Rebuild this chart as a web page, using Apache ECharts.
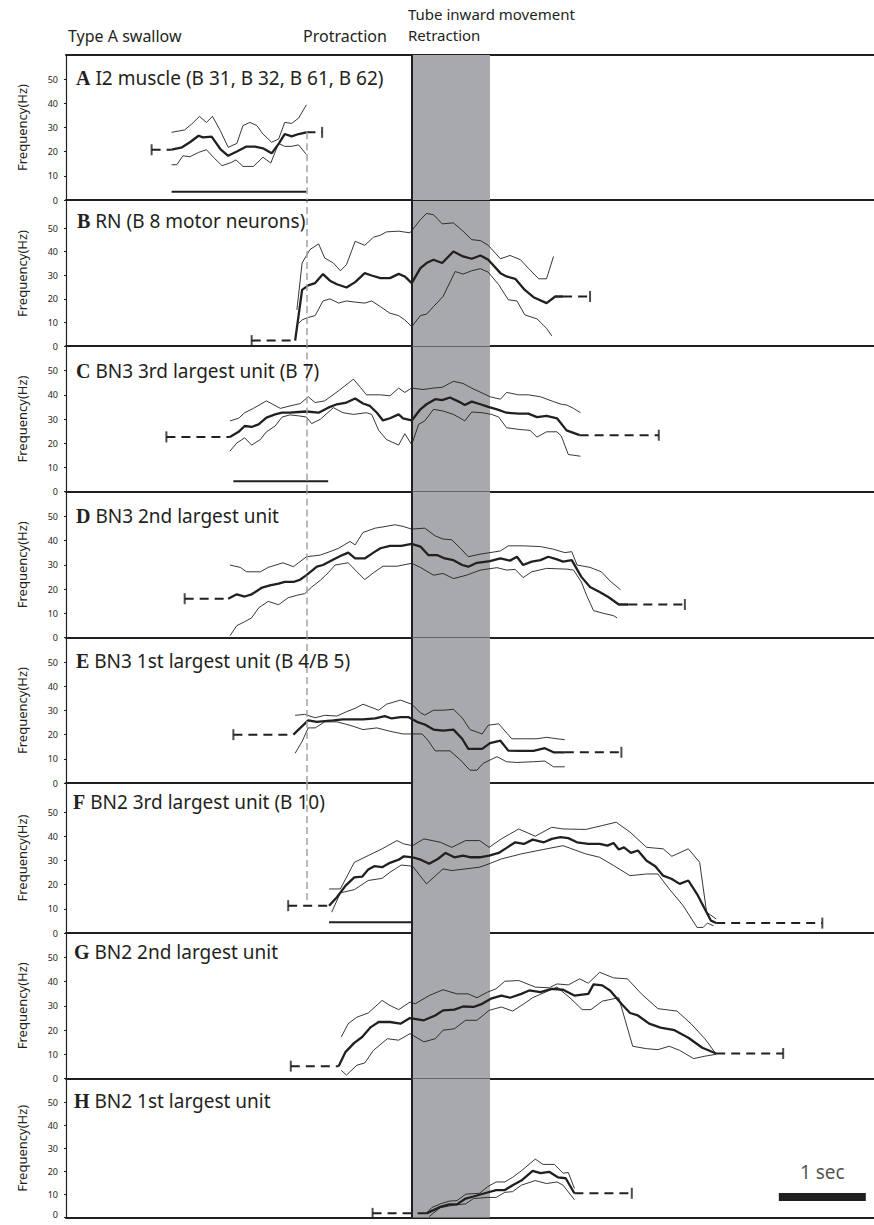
<!DOCTYPE html>
<html><head><meta charset="utf-8">
<script src="https://cdn.jsdelivr.net/npm/echarts@6/dist/echarts.min.js"></script>
<style>html,body{margin:0;padding:0;background:#fff}#c{width:874px;height:1225px}</style>
</head><body><div id="c"></div>
<script>
// ---------------- DATA (time in s, 0 = start of retraction; frequency in Hz) ----------------
const PANEL_KEYS = ['A','B','C','D','E','F','G','H'];
const PANEL_TITLES = ['I2 muscle (B 31, B 32, B 61, B 62)','RN (B 8 motor neurons)','BN3 3rd largest unit (B 7)','BN3 2nd largest unit','BN3 1st largest unit (B 4/B 5)','BN2 3rd largest unit (B 10)','BN2 2nd largest unit','BN2 1st largest unit'];
const HEADER_LEFT = 'Type A swallow';
const HEADER_PROT = 'Protraction';
const HEADER_TUBE = 'Tube inward movement';
const HEADER_RETR = 'Retraction';
const Y_NAME = 'Frequency(Hz)';
const Y_TICKS = [0,10,20,30,40,50];
const PROTRACTION_T = -1.21;
const RETRACTION_BAND = [0, 0.9];
const SCALE_BAR = [[4.22,8.9],[5.22,8.9]];
const SCALE_TEXT = '1 sec';

const A_mean = [[-2.76,20.8],[-2.64,21.8],[-2.55,23.9],[-2.45,26.6],[-2.40,25.9],[-2.30,26.2],[-2.20,21.1],[-2.11,18.3],[-2.01,20.1],[-1.90,22.1],[-1.80,22.1],[-1.71,21.4],[-1.61,19.3],[-1.53,23.2],[-1.46,27.3],[-1.38,26.3],[-1.30,27.3],[-1.21,28.0]];
const A_upper = [[-2.76,28.0],[-2.61,29.0],[-2.53,31.4],[-2.44,34.6],[-2.36,32.1],[-2.29,34.6],[-2.20,28.7],[-2.11,21.8],[-2.01,23.4],[-1.94,30.8],[-1.86,32.1],[-1.78,30.8],[-1.71,27.3],[-1.61,23.9],[-1.53,25.2],[-1.46,32.1],[-1.38,31.7],[-1.30,33.9],[-1.21,39.4]];
const A_lower = [[-2.76,14.6],[-2.70,14.6],[-2.63,18.3],[-2.55,17.9],[-2.45,19.7],[-2.36,20.8],[-2.28,17.7],[-2.18,14.2],[-2.07,15.6],[-2.02,16.6],[-1.94,13.9],[-1.82,13.9],[-1.71,17.7],[-1.62,15.3],[-1.53,23.4],[-1.46,22.2],[-1.38,22.2],[-1.30,22.8],[-1.21,18.8]];
const A_caps = [[-2.99,20.8],[-1.03,28.0]];
const A_bar = [[-2.76,3.4],[-1.21,3.4]];

const B_mean = [[-1.34,2.3],[-1.26,23.8],[-1.19,25.7],[-1.11,26.7],[-1.02,30.5],[-0.94,27.7],[-0.86,26.2],[-0.75,24.8],[-0.65,27.1],[-0.54,30.9],[-0.46,29.9],[-0.36,28.8],[-0.25,28.8],[-0.15,30.6],[-0.08,29.5],[0,26.7],[0.10,33.0],[0.17,35.2],[0.25,36.6],[0.35,35.2],[0.48,40.1],[0.59,38.0],[0.69,37.0],[0.79,38.4],[0.88,36.6],[1.02,30.9],[1.09,29.5],[1.19,28.5],[1.30,23.8],[1.40,20.7],[1.55,18.2],[1.65,21.0],[1.74,21.0]];
const B_upper = [[-1.32,15.3],[-1.26,35.2],[-1.17,40.9],[-1.07,43.3],[-1.00,37.3],[-0.90,35.2],[-0.82,31.9],[-0.75,34.5],[-0.65,44.4],[-0.54,42.7],[-0.44,46.1],[-0.36,47.0],[-0.29,48.4],[-0.15,48.7],[-0.02,48.0],[0.10,53.6],[0.17,56.2],[0.25,55.7],[0.35,51.8],[0.48,52.2],[0.59,48.7],[0.69,45.1],[0.79,44.7],[0.88,42.7],[1.02,37.0],[1.13,38.4],[1.25,36.6],[1.34,33.0],[1.46,28.5],[1.55,28.5],[1.63,38.0]];
const B_lower = [[-1.30,9.6],[-1.26,11.1],[-1.19,12.1],[-1.11,12.9],[-1.02,19.1],[-0.94,20.0],[-0.84,18.2],[-0.75,19.1],[-0.65,18.6],[-0.54,18.2],[-0.46,19.1],[-0.36,16.7],[-0.25,13.9],[-0.15,12.9],[-0.08,11.1],[0,8.2],[0.10,12.9],[0.17,13.5],[0.25,16.7],[0.36,21.0],[0.50,31.6],[0.59,30.5],[0.69,31.9],[0.79,32.8],[0.88,31.3],[1.00,26.0],[1.11,19.6],[1.21,19.1],[1.30,13.2],[1.44,11.5],[1.55,7.5],[1.61,4.3]];
const B_caps = [[-1.84,2.3],[2.05,21.0]];

const C_mean = [[-2.09,22.6],[-1.99,24.7],[-1.92,27.1],[-1.84,26.7],[-1.76,27.8],[-1.67,30.6],[-1.57,31.9],[-1.49,32.6],[-1.40,32.6],[-1.30,32.9],[-1.21,33.1],[-1.07,32.6],[-0.96,34.7],[-0.86,36.1],[-0.75,36.8],[-0.65,38.5],[-0.56,36.4],[-0.48,35.4],[-0.40,32.6],[-0.33,29.4],[-0.25,30.3],[-0.15,31.9],[-0.10,30.3],[0,29.4],[0.10,34.0],[0.17,36.1],[0.27,38.2],[0.35,37.8],[0.44,38.9],[0.54,37.2],[0.61,35.8],[0.69,37.2],[0.79,36.1],[0.88,35.0],[0.98,34.0],[1.09,32.6],[1.23,32.2],[1.34,32.2],[1.44,30.8],[1.55,31.3],[1.67,30.3],[1.78,25.3],[1.93,23.3]];
const C_upper = [[-2.09,29.2],[-1.99,30.3],[-1.92,32.6],[-1.82,34.4],[-1.67,37.5],[-1.51,34.4],[-1.40,35.4],[-1.28,36.4],[-1.19,39.2],[-1.11,36.8],[-1.00,37.5],[-0.84,41.7],[-0.67,46.5],[-0.59,43.1],[-0.52,40.0],[-0.36,40.0],[-0.25,39.6],[-0.15,42.8],[-0.08,41.0],[0,42.8],[0.13,42.2],[0.25,42.8],[0.35,43.1],[0.48,45.6],[0.59,44.7],[0.71,42.4],[0.82,40.6],[0.90,39.2],[1.02,38.2],[1.09,41.0],[1.23,40.0],[1.34,40.0],[1.48,39.2],[1.63,37.2],[1.72,36.1],[1.78,35.8],[1.86,34.4],[1.94,32.6]];
const C_lower = [[-2.09,16.7],[-2.01,20.1],[-1.92,22.2],[-1.84,19.2],[-1.74,21.5],[-1.67,24.7],[-1.57,27.1],[-1.49,30.8],[-1.40,31.7],[-1.30,31.3],[-1.21,30.8],[-1.15,28.1],[-1.05,29.9],[-0.90,34.7],[-0.79,32.6],[-0.67,31.9],[-0.52,32.6],[-0.46,31.9],[-0.38,25.3],[-0.29,21.5],[-0.15,19.2],[-0.08,23.9],[0,19.4],[0.08,27.8],[0.15,29.2],[0.25,34.0],[0.36,33.3],[0.48,31.9],[0.58,29.9],[0.61,29.2],[0.69,32.9],[0.81,32.6],[0.92,31.9],[1.00,30.8],[1.09,26.4],[1.23,25.7],[1.36,25.3],[1.44,22.5],[1.55,24.7],[1.67,24.7],[1.72,22.9],[1.80,15.3],[1.94,14.6]];
const C_caps = [[-2.82,22.6],[2.84,23.3]];
const C_bar = [[-2.05,4.2],[-0.96,4.2]];

const D_mean = [[-2.11,16.0],[-2.01,17.8],[-1.92,16.9],[-1.84,17.8],[-1.72,20.6],[-1.63,21.5],[-1.53,22.2],[-1.46,22.9],[-1.36,22.9],[-1.28,23.9],[-1.21,25.7],[-1.09,29.2],[-1.02,29.9],[-0.90,32.2],[-0.82,33.6],[-0.73,35.0],[-0.65,32.6],[-0.54,32.6],[-0.44,35.0],[-0.36,36.8],[-0.25,37.8],[-0.12,37.8],[0,38.6],[0.10,37.5],[0.19,34.0],[0.29,34.0],[0.38,32.6],[0.48,31.9],[0.58,29.9],[0.65,29.2],[0.75,30.8],[0.90,31.5],[1.02,32.6],[1.13,31.7],[1.21,33.3],[1.28,29.9],[1.38,31.3],[1.48,31.9],[1.57,33.3],[1.67,32.2],[1.74,31.3],[1.84,31.9],[1.95,25.0],[2.05,20.8],[2.16,18.8],[2.26,16.7],[2.38,13.6],[2.49,13.6]];
const D_upper = [[-2.09,29.9],[-1.97,28.9],[-1.90,27.1],[-1.74,27.1],[-1.65,28.9],[-1.48,30.8],[-1.36,29.2],[-1.21,33.3],[-1.05,34.0],[-0.94,35.4],[-0.84,36.8],[-0.71,39.6],[-0.65,38.2],[-0.56,43.3],[-0.42,45.1],[-0.33,45.6],[-0.19,46.5],[-0.10,45.8],[0,44.7],[0.15,45.1],[0.27,41.9],[0.36,40.6],[0.46,40.3],[0.56,36.8],[0.65,33.3],[0.79,34.4],[0.90,35.0],[1.02,35.7],[1.11,37.8],[1.28,37.8],[1.48,37.5],[1.63,36.4],[1.76,35.0],[1.84,35.4],[1.90,29.9],[2.05,28.9],[2.18,27.1],[2.28,23.3],[2.40,19.7]];
const D_lower = [[-2.09,0.7],[-2.01,4.9],[-1.92,6.5],[-1.84,8.1],[-1.76,12.2],[-1.65,14.9],[-1.53,13.5],[-1.42,16.4],[-1.32,17.4],[-1.23,18.1],[-1.15,20.8],[-1.05,23.6],[-0.96,26.7],[-0.88,29.9],[-0.73,30.8],[-0.63,27.1],[-0.54,23.9],[-0.44,26.7],[-0.33,29.4],[-0.17,29.4],[0,30.6],[0.10,28.9],[0.25,25.7],[0.36,26.4],[0.48,24.3],[0.63,25.7],[0.79,27.8],[0.98,28.8],[1.09,27.8],[1.19,28.1],[1.28,24.7],[1.38,27.1],[1.55,28.5],[1.78,28.2],[1.86,27.8],[1.95,22.9],[2.01,17.4],[2.09,11.1],[2.20,10.0],[2.32,9.0],[2.36,8.1]];
const D_caps = [[-2.61,16.0],[3.14,13.6]];

const E_mean = [[-1.36,20.0],[-1.28,22.8],[-1.19,25.9],[-1.09,25.3],[-1.00,25.6],[-0.90,25.9],[-0.79,26.3],[-0.67,26.3],[-0.56,26.3],[-0.42,26.7],[-0.31,27.7],[-0.23,26.7],[-0.13,27.3],[-0.04,27.3],[0.06,25.3],[0.15,24.2],[0.25,22.1],[0.36,21.7],[0.48,22.1],[0.58,18.3],[0.65,14.1],[0.81,14.1],[0.90,16.5],[1.02,17.5],[1.11,13.4],[1.25,13.3],[1.40,13.3],[1.53,14.4],[1.63,12.7],[1.76,12.7]];
const E_upper = [[-1.34,28.0],[-1.23,28.4],[-1.11,27.0],[-1.00,28.0],[-0.86,27.7],[-0.75,29.5],[-0.65,30.9],[-0.56,32.6],[-0.48,31.5],[-0.38,30.1],[-0.29,32.6],[-0.13,34.3],[0,32.6],[0.10,29.1],[0.15,28.1],[0.25,30.1],[0.36,30.1],[0.48,30.5],[0.58,27.0],[0.67,22.1],[0.81,20.3],[0.88,23.9],[1.00,24.5],[1.15,18.3],[1.30,18.3],[1.44,18.3],[1.55,18.9],[1.67,18.3],[1.76,17.9]];
const E_lower = [[-1.34,12.3],[-1.26,17.2],[-1.19,22.8],[-1.11,22.8],[-1.00,25.3],[-0.86,25.3],[-0.71,23.9],[-0.56,22.1],[-0.40,22.8],[-0.25,21.4],[-0.10,20.3],[0,20.3],[0.12,20.3],[0.19,17.5],[0.27,13.3],[0.44,13.3],[0.56,9.5],[0.67,5.3],[0.75,5.3],[0.82,8.1],[0.98,10.9],[1.09,8.8],[1.21,8.5],[1.40,8.8],[1.53,9.1],[1.63,6.7],[1.76,6.7]];
const E_caps = [[-2.05,20.0],[2.41,12.7]];

const F_mean = [[-0.95,11.3],[-0.86,14.8],[-0.76,19.6],[-0.66,23.0],[-0.57,23.3],[-0.50,26.2],[-0.43,27.6],[-0.34,27.2],[-0.25,29.0],[-0.15,30.3],[-0.09,31.7],[0.01,31.3],[0.11,30.2],[0.20,28.6],[0.30,30.6],[0.39,33.1],[0.49,31.3],[0.59,32.0],[0.68,31.3],[0.78,31.3],[0.89,32.0],[1.00,33.1],[1.10,35.4],[1.19,37.5],[1.29,36.8],[1.39,38.6],[1.52,37.5],[1.61,38.9],[1.71,39.6],[1.80,39.2],[1.90,37.5],[2.03,36.8],[2.16,36.8],[2.25,36.1],[2.32,37.2],[2.38,34.5],[2.44,35.4],[2.52,33.1],[2.60,34.1],[2.70,29.9],[2.80,27.6],[2.89,23.7],[2.99,22.3],[3.08,20.3],[3.18,21.7],[3.28,16.1],[3.35,11.3],[3.44,5.1],[3.50,4.1]];
const F_upper = [[-0.95,18.2],[-0.82,18.2],[-0.66,29.2],[-0.50,32.0],[-0.34,34.8],[-0.17,38.2],[-0.09,36.8],[0.01,36.1],[0.14,38.9],[0.33,37.5],[0.46,35.4],[0.62,38.2],[0.78,38.2],[0.89,35.4],[1.03,38.9],[1.23,43.0],[1.42,40.0],[1.61,43.7],[1.74,43.0],[2.00,42.8],[2.19,44.4],[2.35,45.8],[2.51,41.7],[2.70,35.4],[2.89,34.8],[2.99,31.7],[3.18,34.8],[3.31,29.2],[3.39,8.6],[3.50,5.8]];
const F_lower = [[-0.92,8.6],[-0.82,16.6],[-0.66,17.9],[-0.50,21.7],[-0.34,22.6],[-0.25,25.1],[-0.12,28.1],[0.01,27.6],[0.17,20.3],[0.36,26.5],[0.46,25.8],[0.62,26.5],[0.78,27.2],[0.89,28.6],[1.03,30.6],[1.26,32.7],[1.51,34.5],[1.74,36.1],[2.00,32.7],[2.16,31.3],[2.32,27.9],[2.51,23.7],[2.70,24.4],[2.83,24.4],[2.96,18.2],[3.12,11.3],[3.28,2.3],[3.35,2.3],[3.40,4.1],[3.47,3.0]];
const F_caps = [[-1.42,11.3],[4.72,4.1]];
const F_bar = [[-0.95,4.4],[0,4.4]];

const G_mean = [[-0.84,5.1],[-0.76,11.0],[-0.66,14.7],[-0.57,17.1],[-0.47,21.2],[-0.38,23.3],[-0.25,23.3],[-0.13,22.6],[-0.02,24.9],[0.14,24.0],[0.27,26.0],[0.36,28.1],[0.49,28.4],[0.59,29.7],[0.71,29.5],[0.81,30.8],[0.91,32.9],[1.03,34.2],[1.13,33.3],[1.26,34.9],[1.35,36.3],[1.48,35.6],[1.61,37.0],[1.74,36.6],[1.87,34.2],[2.03,34.9],[2.09,38.8],[2.19,38.4],[2.28,36.3],[2.41,30.8],[2.51,27.0],[2.60,26.0],[2.73,22.6],[2.86,21.0],[3.02,19.9],[3.18,16.8],[3.34,12.7],[3.50,10.3]];
const G_upper = [[-0.81,17.1],[-0.73,22.6],[-0.63,25.3],[-0.50,27.0],[-0.34,32.2],[-0.25,30.1],[-0.15,28.4],[-0.02,31.5],[0.04,30.8],[0.20,34.2],[0.36,36.6],[0.52,34.9],[0.65,34.9],[0.75,33.3],[0.87,35.6],[0.97,37.0],[1.07,40.1],[1.23,40.4],[1.42,37.7],[1.58,37.4],[1.67,39.0],[1.80,38.6],[1.93,41.1],[2.03,39.3],[2.16,43.8],[2.32,41.5],[2.48,41.1],[2.64,34.9],[2.83,28.8],[3.05,27.8],[3.21,22.6],[3.37,16.4],[3.50,10.0]];
const G_lower = [[-0.81,3.4],[-0.75,1.4],[-0.63,5.5],[-0.54,6.4],[-0.44,11.6],[-0.28,16.4],[-0.15,15.8],[-0.02,18.5],[0.14,15.1],[0.27,16.4],[0.36,19.9],[0.49,20.5],[0.62,24.0],[0.75,24.0],[0.89,28.1],[1.03,29.5],[1.16,27.8],[1.29,30.8],[1.39,33.3],[1.58,36.3],[1.67,37.7],[1.83,32.9],[1.96,28.4],[2.06,28.4],[2.19,31.9],[2.38,33.3],[2.54,13.3],[2.70,12.3],[2.83,11.9],[2.96,13.3],[3.08,11.6],[3.24,8.2],[3.37,9.2],[3.50,10.0]];
const G_caps = [[-1.39,5.1],[4.27,10.3]];

const H_mean = [[0.17,1.8],[0.33,4.6],[0.43,5.7],[0.52,5.7],[0.62,8.2],[0.71,9.1],[0.84,10.5],[0.97,11.9],[1.07,11.9],[1.16,14.0],[1.26,16.0],[1.39,20.2],[1.48,19.2],[1.58,19.8],[1.68,17.4],[1.77,17.0],[1.87,10.5]];
const H_upper = [[0.17,1.8],[0.23,4.3],[0.33,5.9],[0.43,7.1],[0.52,7.3],[0.62,10.1],[0.78,10.5],[0.87,13.3],[0.97,15.4],[1.07,15.4],[1.16,17.4],[1.26,20.2],[1.42,25.3],[1.51,23.0],[1.64,23.0],[1.74,19.2],[1.80,19.5],[1.87,12.6]];
const H_lower = [[0.20,0.4],[0.33,4.3],[0.49,5.4],[0.62,5.9],[0.71,8.2],[0.87,8.7],[0.97,8.7],[1.07,10.9],[1.16,11.2],[1.26,14.0],[1.42,16.0],[1.55,14.7],[1.67,15.4],[1.74,14.0],[1.87,7.7]];
const H_caps = [[-0.45,1.8],[2.53,10.5]];

const PANELS = [
  {mean:A_mean, upper:A_upper, lower:A_lower, caps:A_caps, bar:A_bar, prot:[28,0]},
  {mean:B_mean, upper:B_upper, lower:B_lower, caps:B_caps, prot:'full'},
  {mean:C_mean, upper:C_upper, lower:C_lower, caps:C_caps, bar:C_bar, prot:'full'},
  {mean:D_mean, upper:D_upper, lower:D_lower, caps:D_caps, prot:'full'},
  {mean:E_mean, upper:E_upper, lower:E_lower, caps:E_caps, prot:'full'},
  {mean:F_mean, upper:F_upper, lower:F_lower, caps:F_caps, bar:F_bar, prot:['max',12]},
  {mean:G_mean, upper:G_upper, lower:G_lower, caps:G_caps},
  {mean:H_mean, upper:H_upper, lower:H_lower, caps:H_caps, scale:true}
];

// ---------------- LAYOUT / STYLE ----------------
const INK = '#231f20';
const BAND = '#a7a9ac';
const PROT_GREY = '#a4a4a4';
const FONT = 'Noto Sans';
const X_MIN = -3.974, X_MAX = 5.314;
const GRID_LEFT = 66;
const GRID_TOP = [55, 201, 346.5, 492, 638, 783, 933, 1079];
const GRID_H = [145, 145, 145, 145.5, 145, 150, 145.5, 144];
const Y_MAX = [60, 61.5, 60, 60, 60, 62, 60, 60];
const TITLE_MID = [77.5, 220.8, 371.3, 515.5, 660.5, 801.7, 952, 1101.3];
const TITLE_LEFT = [76, 77, 76, 76, 76, 73, 74, 74];

const grid = [], xAxis = [], yAxis = [], series = [], title = [];
PANELS.forEach((p, i) => {
  const last = i === PANELS.length - 1;
  grid.push({left: GRID_LEFT, right: 0, top: GRID_TOP[i], height: GRID_H[i]});
  xAxis.push({gridIndex: i, type: 'value', min: X_MIN, max: X_MAX,
    axisLine: {show: true, onZero: false, lineStyle: {color: INK, width: 2}},
    axisTick: {show: false}, axisLabel: {show: false}, splitLine: {show: false}});
  yAxis.push({gridIndex: i, type: 'value', min: 0, max: Y_MAX[i], interval: 10,
    name: Y_NAME, nameLocation: 'middle', nameGap: 38,
    nameTextStyle: {fontFamily: FONT, fontSize: 13, color: INK},
    axisLine: {show: true, onZero: false, lineStyle: {color: INK, width: 1.2}},
    axisTick: {show: true, length: 2, customValues: Y_TICKS, lineStyle: {color: INK}},
    axisLabel: {show: true, customValues: Y_TICKS, margin: 8, fontFamily: FONT, fontSize: 9, color: INK,
      formatter: last ? (v => (v === 0 ? '{z|0}' : String(v))) : undefined,
      rich: last ? {z: {fontFamily: FONT, fontSize: 9, color: INK, lineHeight: 9, padding: [0, 0, 6, 0]}} : undefined},
    splitLine: {show: false}});
  title.push({
    text: '{l|' + PANEL_KEYS[i] + '}{t| ' + PANEL_TITLES[i] + '}',
    left: TITLE_LEFT[i], top: TITLE_MID[i] - 11, padding: 0,
    textStyle: {fontWeight: 'normal', rich: {
      l: {fontFamily: 'Liberation Serif', fontWeight: 'bold', fontSize: 20, lineHeight: 22, color: INK},
      t: {fontFamily: FONT, fontWeight: 'normal', fontSize: 19, lineHeight: 22, color: INK}
    }}
  });
  const ax = {xAxisIndex: i, yAxisIndex: i};
  series.push(Object.assign({type: 'line', data: [], z: 1, silent: true,
    markArea: {silent: true, itemStyle: {color: BAND}, data: [[{xAxis: RETRACTION_BAND[0]}, {xAxis: RETRACTION_BAND[1]}]]}}, ax));
  if (p.prot) {
    let d;
    if (p.prot === 'full') d = [{xAxis: PROTRACTION_T}];
    else {
      const top = p.prot[0] === 'max' ? Y_MAX[i] : p.prot[0];
      d = [[{coord: [PROTRACTION_T, top]}, {coord: [PROTRACTION_T, p.prot[1]]}]];
    }
    series.push(Object.assign({type: 'line', data: [], z: 2, silent: true,
      markLine: {silent: true, symbol: ['none', 'none'], label: {show: false}, animation: false,
        lineStyle: {color: PROT_GREY, width: 1.5, type: [7, 4]}, data: d}}, ax));
  }
  const thin = {color: INK, width: 0.9};
  series.push(Object.assign({type: 'line', data: p.upper, symbol: 'none', z: 3, lineStyle: thin}, ax));
  series.push(Object.assign({type: 'line', data: p.lower, symbol: 'none', z: 3, lineStyle: thin}, ax));
  series.push(Object.assign({type: 'line', data: p.mean, symbol: 'none', z: 4, lineStyle: {color: INK, width: 2.3}}, ax));
  const m0 = p.mean[0], m1 = p.mean[p.mean.length - 1];
  series.push(Object.assign({type: 'line', data: [p.caps[0], [m0[0], p.caps[0][1]]], symbol: 'none', z: 4, lineStyle: {color: INK, width: 2, type: [9, 6]}}, ax));
  series.push(Object.assign({type: 'line', data: [[m1[0], p.caps[1][1]], p.caps[1]], symbol: 'none', z: 4, lineStyle: {color: INK, width: 2, type: [9, 6]}}, ax));
  series.push(Object.assign({type: 'scatter', data: p.caps, symbol: 'rect', symbolSize: [2, 11], z: 4, itemStyle: {color: INK}}, ax));
  if (p.bar) series.push(Object.assign({type: 'line', data: p.bar, symbol: 'none', z: 4, lineStyle: {color: INK, width: 2}}, ax));
  if (p.scale) {
    series.push(Object.assign({type: 'line', data: SCALE_BAR, symbol: 'none', z: 4, lineStyle: {color: INK, width: 8}}, ax));
    const mid = [(SCALE_BAR[0][0] + SCALE_BAR[1][0]) / 2, SCALE_BAR[0][1]];
    series.push(Object.assign({type: 'scatter', data: [mid], symbolSize: 1, z: 4, itemStyle: {color: 'rgba(0,0,0,0)'},
      label: {show: true, formatter: SCALE_TEXT, position: 'top', distance: 15, fontFamily: FONT, fontSize: 19, color: INK}}, ax));
  }
  series.push(Object.assign({type: 'line', data: [], z: 6, silent: true,
    markLine: {silent: true, symbol: ['none', 'none'], label: {show: false}, animation: false,
      lineStyle: {color: INK, width: 2, type: 'solid'}, data: [{xAxis: RETRACTION_BAND[0]}]}}, ax));
});
xAxis.push({gridIndex: 0, type: 'value', position: 'top', min: X_MIN, max: X_MAX,
  axisLine: {show: true, onZero: false, lineStyle: {color: INK, width: 2}},
  axisTick: {show: false}, axisLabel: {show: false}, splitLine: {show: false}});

const hdr = (text, x, y, size) => ({type: 'text', x: x, y: y, silent: true,
  style: {text: text, fontFamily: FONT, fontSize: size, lineHeight: size, fill: INK, align: 'left', verticalAlign: 'middle'}});

const chart = echarts.init(document.getElementById('c'), null, {renderer: 'svg'});
chart.setOption({
  animation: false,
  backgroundColor: '#fff',
  title: title,
  grid: grid, xAxis: xAxis, yAxis: yAxis, series: series,
  graphic: [hdr(HEADER_LEFT, 68, 35.5, 16), hdr(HEADER_PROT, 303, 35.5, 16), hdr(HEADER_TUBE, 408, 13.5, 15), hdr(HEADER_RETR, 408, 34.5, 15)]
});
</script></body></html>
